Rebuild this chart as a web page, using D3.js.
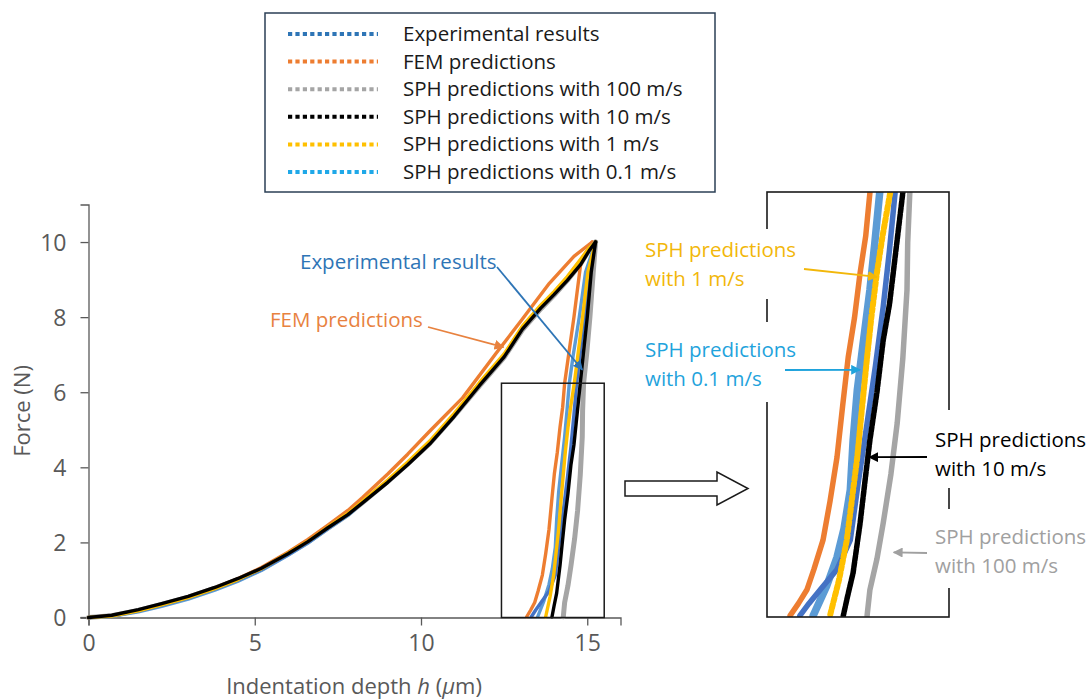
<!DOCTYPE html>
<html>
<head>
<meta charset="utf-8">
<script src="https://cdn.jsdelivr.net/npm/d3@7/dist/d3.min.js"></script>
<style>
  html, body { margin: 0; padding: 0; background: #fff; }
  svg { display: block; font-family: "Open Sans", Lato, sans-serif; }
</style>
</head>
<body>
<svg id="chart" width="1092" height="699"></svg>
<script>
// ---------------- DATA ----------------
const seriesNames = ["Experimental results", "FEM predictions", "SPH predictions with 100 m/s",
  "SPH predictions with 10 m/s", "SPH predictions with 1 m/s", "SPH predictions with 0.1 m/s"];
const xTicks = [0, 5, 10, 15];
const yTicks = [0, 2, 4, 6, 8, 10];

// loading branches [h (µm), F (N)]
const expLoad = [[0,0],[0.7,0.04],[1.5,0.17],[2.2,0.33],[3,0.52],[3.8,0.76],[4.5,1.0],[5.2,1.28],[6,1.68],[6.6,2.0],[7.2,2.38],[7.8,2.74],[8.25,3.08],[9,3.63],[9.6,4.1],[10.26,4.66],[11,5.4],[11.76,6.22],[12.5,6.98],[13.05,7.72],[13.6,8.28],[14.0,8.64],[14.4,9.04],[14.8,9.5],[15.05,9.82],[15.25,10]];
const femLoad = [[0,0],[0.7,0.05],[1.5,0.19],[2.2,0.35],[3,0.55],[3.8,0.79],[4.5,1.04],[5.2,1.33],[6,1.74],[6.6,2.08],[7.2,2.46],[7.8,2.85],[8.25,3.2],[9,3.82],[9.6,4.35],[10.26,4.96],[11.25,5.85],[12.27,7.05],[13.05,7.95],[13.86,8.9],[14.6,9.62],[15.15,10]];
const sph100Load = [[0,0],[0.7,0.05],[1.5,0.19],[2.2,0.35],[3,0.54],[3.8,0.78],[4.5,1.01],[5.2,1.29],[6,1.69],[6.6,2.01],[7.2,2.38],[7.8,2.74],[8.25,3.07],[9,3.62],[9.6,4.09],[10.26,4.63],[11,5.37],[11.76,6.17],[12.5,6.93],[13.05,7.66],[13.6,8.22],[14.0,8.58],[14.4,8.98],[14.8,9.42],[15.05,9.78],[15.25,10]];
const sph10Load = [[0,0],[0.7,0.06],[1.5,0.21],[2.2,0.37],[3,0.56],[3.8,0.8],[4.5,1.04],[5.2,1.31],[6,1.7],[6.6,2.02],[7.2,2.39],[7.8,2.74],[8.25,3.06],[9,3.6],[9.6,4.07],[10.26,4.62],[11,5.36],[11.76,6.18],[12.5,6.94],[13.05,7.68],[13.6,8.24],[14.0,8.6],[14.4,8.98],[14.8,9.4],[15.05,9.76],[15.25,10]];
const sph1Load = [[0,0],[0.7,0.04],[1.5,0.18],[2.2,0.34],[3,0.53],[3.8,0.77],[4.5,1.01],[5.2,1.3],[6,1.71],[6.6,2.03],[7.2,2.41],[7.8,2.77],[8.25,3.1],[9,3.66],[9.6,4.14],[10.26,4.7],[11,5.44],[11.76,6.26],[12.5,7.02],[13.05,7.76],[13.6,8.32],[14.0,8.68],[14.4,9.08],[14.8,9.54],[15.05,9.84],[15.25,10]];
const sph01Load = [[0,0],[0.7,0.03],[1.5,0.15],[2.2,0.3],[3,0.49],[3.8,0.73],[4.5,0.97],[5.2,1.25],[6,1.66],[6.6,1.98],[7.2,2.36],[7.8,2.72],[8.25,3.07],[9,3.62],[9.6,4.1],[10.26,4.66],[11,5.41],[11.76,6.23],[12.5,7.0],[13.05,7.74],[13.6,8.3],[14.0,8.66],[14.4,9.06],[14.8,9.52],[15.05,9.83],[15.25,10]];

// unloading branches [h (µm), F (N)]
const expUnload = [[15.25,10],[15.08,9.2],[14.92,8.0],[14.78,7.0],[14.68,6.24],[14.6,5.4],[14.51,4.56],[14.4,3.7],[14.28,2.85],[14.15,1.95],[14.04,1.13],[13.85,0.7],[13.61,0.4],[13.45,0.2],[13.32,0.02]];
const femUnload = [[15.15,10],[14.8,9.4],[14.6,8.0],[14.44,7.0],[14.32,6.24],[14.26,5.6],[14.18,5.06],[14.1,4.4],[14.01,3.82],[13.93,3.1],[13.85,2.35],[13.75,1.7],[13.65,1.13],[13.52,0.7],[13.42,0.4],[13.3,0.2],[13.18,0.02]];
const sph100Unload = [[15.25,10],[15.18,9.2],[15.08,8.0],[14.98,7.0],[14.89,6.24],[14.86,5.5],[14.85,4.81],[14.79,3.8],[14.71,2.85],[14.62,2.1],[14.51,1.38],[14.42,0.85],[14.32,0.4],[14.28,0.02]];
const sph10Unload = [[15.25,10],[15.12,9.2],[15.0,8.0],[14.88,7.0],[14.79,6.24],[14.68,5.29],[14.6,4.6],[14.51,4.07],[14.42,3.3],[14.32,2.6],[14.25,2.0],[14.18,1.38],[14.08,0.65],[14.0,0.3],[13.94,0.02]];
const sph1Unload = [[15.25,10],[15.02,9.2],[14.86,8.0],[14.72,7.0],[14.61,6.24],[14.5,5.6],[14.42,5.06],[14.34,4.4],[14.28,3.82],[14.2,3.0],[14.14,2.35],[14.06,1.7],[13.99,1.13],[13.88,0.55],[13.75,0.02]];
const sph01Unload = [[15.25,10],[14.95,9.2],[14.76,8.0],[14.58,7.0],[14.46,6.24],[14.39,5.5],[14.32,4.81],[14.22,4.0],[14.14,3.34],[14.08,2.6],[14.04,1.87],[13.95,1.3],[13.85,0.88],[13.7,0.45],[13.51,0.02]];

// ---------------- STYLE ----------------
const curveColors = {
  exp: "#4472C4", fem: "#ED7D31", s100: "#A5A5A5", s10: "#000000", s1: "#FFC000", s01: "#5B9BD5"
};
const legendColors = ["#2E75B6", "#ED7D31", "#A5A5A5", "#000000", "#FFC000", "#1FA8E8"];
const axisGray = "#595959";

const series = [
  { key: "s100", load: sph100Load, unload: sph100Unload },
  { key: "fem", load: femLoad, unload: femUnload },
  { key: "s01", load: sph01Load, unload: sph01Unload },
  { key: "exp", load: expLoad, unload: expUnload },
  { key: "s1", load: sph1Load, unload: sph1Unload },
  { key: "s10", load: sph10Load, unload: sph10Unload }
];

const svg = d3.select("#chart");

// ---------------- MAIN PLOT ----------------
const x = d3.scaleLinear().domain([0, 16]).range([88.5, 620.5]);
const y = d3.scaleLinear().domain([0, 11]).range([617.5, 204.5]);

const gx = svg.append("g").attr("transform", `translate(0,${y(0)})`)
  .call(d3.axisBottom(x).tickValues(xTicks).tickSize(8).tickPadding(9).tickFormat(d3.format("d")));
const gy = svg.append("g").attr("transform", `translate(${x(0)},0)`)
  .call(d3.axisLeft(y).tickValues(yTicks).tickSize(8).tickPadding(14).tickFormat(d3.format("d")));
[gx, gy].forEach(g => {
  g.select(".domain").attr("stroke", axisGray).attr("stroke-width", 1.3);
  g.selectAll(".tick line").attr("stroke", axisGray).attr("stroke-width", 1.3);
  g.selectAll(".tick text").attr("fill", axisGray).style("font-size", "23px").style("font-family", "'Open Sans', sans-serif");
});
gy.selectAll(".tick text").attr("dy", "0.36em");
// extend x axis line left to the tick length
svg.append("line").attr("x1", x(0) - 8).attr("x2", x(0)).attr("y1", y(0)).attr("y2", y(0))
  .attr("stroke", axisGray).attr("stroke-width", 1.3);

svg.append("text").attr("transform", `translate(30,${(y(0)+y(11))/2}) rotate(-90)`)
  .attr("text-anchor", "middle").attr("fill", axisGray).style("font-size", "22px").text("Force (N)");
const xt = svg.append("text").attr("x", 354).attr("y", 694).attr("text-anchor", "middle")
  .attr("fill", axisGray).style("font-size", "22px");
xt.append("tspan").text("Indentation depth ");
xt.append("tspan").attr("font-style", "italic").text("h");
xt.append("tspan").text(" (");
xt.append("tspan").attr("font-style", "italic").text("\u03BC");
xt.append("tspan").text("m)");

const lineMain = d3.line().x(d => x(d[0])).y(d => y(d[1]));
const gMain = svg.append("g");
series.forEach(s => {
  const w = s.key === "s100" ? 5 : 3.4;
  [s.load, s.unload].forEach(arr => {
    gMain.append("path").attr("d", lineMain(arr)).attr("fill", "none")
      .attr("stroke", curveColors[s.key]).attr("stroke-width", w)
      .attr("stroke-linejoin", "round").attr("stroke-linecap", "round");
  });
});

// zoom rectangle in main plot
const zoomBox = { h0: 12.42, h1: 15.51, f1: 6.24 };
svg.append("rect").attr("x", x(zoomBox.h0)).attr("y", y(zoomBox.f1))
  .attr("width", x(zoomBox.h1) - x(zoomBox.h0)).attr("height", y(0) - y(zoomBox.f1))
  .attr("fill", "none").attr("stroke", "#1a1a1a").attr("stroke-width", 1.5);

// ---------------- INSET ----------------
const ix = d3.scaleLinear().domain([12.85, 15.45]).range([767, 949]);
const iy = d3.scaleLinear().domain([0, 6.25]).range([617, 192]);
svg.append("clipPath").attr("id", "insetClip").append("rect")
  .attr("x", 767).attr("y", 192).attr("width", 182).attr("height", 425);
const lineInset = d3.line().x(d => ix(d[0])).y(d => iy(d[1]));
const gInset = svg.append("g").attr("clip-path", "url(#insetClip)");
series.forEach(s => {
  const p = gInset.append("path").attr("d", lineInset(s.unload)).attr("fill", "none")
    .attr("stroke", curveColors[s.key]).attr("stroke-width", s.key === "s01" ? 7.5 : 5.5)
    .attr("stroke-linejoin", "round").attr("stroke-linecap", "round");
  if (s.key === "s1") p.attr("stroke-dasharray", "4,2.5").attr("stroke-width", 6);
  if (s.key === "s10") p.attr("stroke-dasharray", "5,1.5");
});
svg.append("rect").attr("x", 767).attr("y", 192).attr("width", 182).attr("height", 425)
  .attr("fill", "none").attr("stroke", "#1a1a1a").attr("stroke-width", 1.6);

// ---------------- ANNOTATIONS ----------------
const defs = svg.append("defs");
function marker(id, color) {
  defs.append("marker").attr("id", id).attr("viewBox", "0 0 10 10").attr("refX", 9).attr("refY", 5)
    .attr("markerWidth", 5.5).attr("markerHeight", 5.5).attr("orient", "auto-start-reverse")
    .attr("markerUnits", "strokeWidth")
    .append("path").attr("d", "M0,0 L10,5 L0,10 z").attr("fill", color);
}
function arrow(x1, y1, x2, y2, color, id) {
  marker(id, color);
  svg.append("line").attr("x1", x1).attr("y1", y1).attr("x2", x2).attr("y2", y2)
    .attr("stroke", color).attr("stroke-width", 1.8).attr("marker-end", `url(#${id})`);
}
function label(lines, xPos, yPos, color, bg) {
  if (bg) svg.append("rect").attr("x", bg[0]).attr("y", bg[1]).attr("width", bg[2]).attr("height", bg[3]).attr("fill", "#fff");
  const t = svg.append("text").attr("x", xPos).attr("y", yPos).attr("fill", color).style("font-size", "20.5px");
  lines.forEach((l, i) => t.append("tspan").attr("x", xPos).attr("dy", i === 0 ? 0 : 29).text(l));
}

// main plot annotations
label(["Experimental results"], 300, 269, "#2E75B6");
arrow(497, 267, x(14.85), y(6.6), "#2E75B6", "mExp");
label(["FEM predictions"], 270, 327, "#E8823F");
arrow(428, 327, x(12.48), y(7.2), "#E8823F", "mFem");

// inset annotations
label(["SPH predictions", "with 1 m/s"], 645, 257, "#F2B70A", [640, 229, 162, 70]);
arrow(804, 269, ix(14.42), iy(5.06) + 4, "#F2B70A", "mS1");
label(["SPH predictions", "with 0.1 m/s"], 645, 357, "#1FA3DC", [640, 322, 162, 80]);
arrow(785, 370, ix(14.18), iy(3.65) + 1, "#1FA3DC", "mS01");
label(["SPH predictions", "with 10 m/s"], 935, 447, "#000000", [930, 410, 162, 78]);
arrow(927, 457, ix(14.31), iy(2.35), "#000000", "mS10");
label(["SPH predictions", "with 100 m/s"], 935, 544, "#A0A0A0", [930, 509, 162, 79]);
arrow(927, 553, ix(14.66), iy(0.95), "#A0A0A0", "mS100");

// big hollow arrow
svg.append("path").attr("d", "M625,481 L717,481 L717,472 L748,488.5 L717,505 L717,496 L625,496 Z")
  .attr("fill", "#fff").attr("stroke", "#1a1a1a").attr("stroke-width", 1.5).attr("stroke-linejoin", "miter");

// ---------------- LEGEND ----------------
svg.append("rect").attr("x", 265).attr("y", 13).attr("width", 450).attr("height", 179)
  .attr("fill", "#fff").attr("stroke", "#2B3F55").attr("stroke-width", 1.5);
const leg = svg.append("g");
seriesNames.forEach((name, i) => {
  const cy = 34 + i * 27.6;
  leg.append("line").attr("x1", 288).attr("x2", 378).attr("y1", cy).attr("y2", cy)
    .attr("stroke", legendColors[i]).attr("stroke-width", 4).attr("stroke-dasharray", "4.2,3.2");
  leg.append("text").attr("x", 403).attr("y", cy + 7).attr("fill", "#1a1a1a")
    .style("font-size", "20.5px").text(name);
});
</script>
</body>
</html>
